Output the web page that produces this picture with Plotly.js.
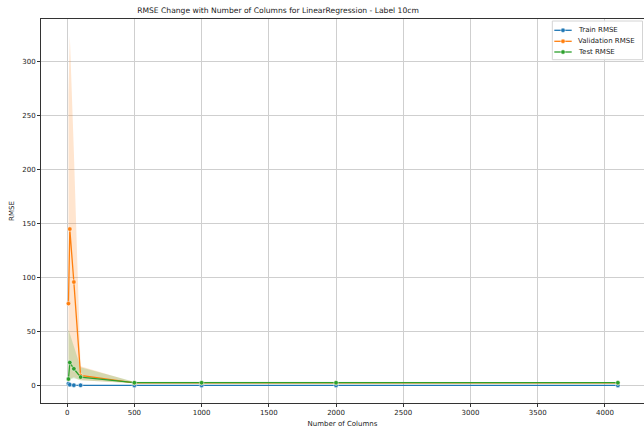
<!DOCTYPE html>
<html>
<head>
<meta charset="utf-8">
<script src="https://cdn.plot.ly/plotly-3.0.1.min.js"></script>
<style>html,body{margin:0;padding:0;background:#fff;}#chart{width:644px;height:431px;}</style>
</head>
<body>
<div id="chart"></div>
<script>
const columns = [10, 20, 50, 100, 500, 1000, 2000, 4096];
const trainRmse = [1.9, 1.0, 0.5, 0.4, 0.3, 0.3, 0.3, 0.3];
const trainLow = [1.2, 0.6, 0.3, 0.2, 0.2, 0.2, 0.2, 0.2];
const trainHigh = [2.6, 1.5, 0.8, 0.6, 0.4, 0.4, 0.4, 0.4];
const valRmse = [76, 145, 96, 9.5, 2.6, 2.6, 2.6, 2.6];
const valLow = [5, 6, 8, 5, 2.2, 2.2, 2.2, 2.2];
const valHigh = [270, 324, 217, 18, 3.2, 3.1, 3.1, 3.1];
const testRmse = [6.2, 21.5, 15.7, 8.0, 2.8, 2.8, 2.8, 2.8];
const testLow = [5, 6, 7, 5, 2.2, 2.3, 2.3, 2.3];
const testHigh = [52, 48, 35, 17, 3.6, 3.5, 3.5, 3.5];
const seriesNames = ['Train RMSE', 'Validation RMSE', 'Test RMSE'];
const xTicks = [0, 500, 1000, 1500, 2000, 2500, 3000, 3500, 4000];
const yTicks = [0, 50, 100, 150, 200, 250, 300];

const colors = ['#1f77b4', '#ff7f0e', '#2ca02c'];
const fills = ['rgba(31,119,180,0.2)', 'rgba(255,127,14,0.2)', 'rgba(44,160,44,0.2)'];
const series = [
  {y: trainRmse, lo: trainLow, hi: trainHigh},
  {y: valRmse, lo: valLow, hi: valHigh},
  {y: testRmse, lo: testLow, hi: testHigh}
];

const traces = [];
series.forEach((s, i) => {
  traces.push({
    x: columns.concat(columns.slice().reverse()),
    y: s.hi.concat(s.lo.slice().reverse()),
    type: 'scatter', mode: 'lines', fill: 'toself', fillcolor: fills[i],
    line: {width: 0}, hoverinfo: 'skip', showlegend: false
  });
});
series.forEach((s, i) => {
  traces.push({
    x: columns, y: s.y, name: seriesNames[i], type: 'scatter', mode: 'lines+markers',
    line: {color: colors[i], width: 1.3}, showlegend: false,
    marker: {color: colors[i], size: 4.5, line: {color: '#ffffff', width: 0.5}}
  });
});

const font = {family: 'DejaVu Sans, sans-serif', color: '#222', size: 7};

// Legend drawn in paper coordinates (plot area: 41..644 px wide, 19..403 px tall)
const W = 603, H = 384, L = 41, B = 403;
const px = v => (v - L) / W;
const py = v => (B - v) / H;
const shapes = [{
  type: 'rect', xref: 'paper', yref: 'paper', layer: 'above',
  x0: px(552.3), x1: px(642.5), y0: py(59.7), y1: py(21),
  line: {color: '#d4d4d4', width: 1}, fillcolor: 'rgba(255,255,255,0.85)'
}];
const annotations = [];
const entryY = [30.3, 41.3, 52];
seriesNames.forEach((n, i) => {
  shapes.push({type: 'line', xref: 'paper', yref: 'paper', layer: 'above',
    x0: px(554.3), x1: px(571.7), y0: py(entryY[i]), y1: py(entryY[i]),
    line: {color: colors[i], width: 1.3}});
  shapes.push({type: 'circle', xref: 'paper', yref: 'paper', layer: 'above',
    xsizemode: 'pixel', ysizemode: 'pixel', xanchor: px(563), yanchor: py(entryY[i]),
    x0: -2.2, x1: 2.2, y0: -2.2, y1: 2.2, fillcolor: colors[i], line: {color: '#ffffff', width: 0.5}});
  annotations.push({xref: 'paper', yref: 'paper', x: px(576.2), y: py(entryY[i]),
    xanchor: 'left', yanchor: 'middle', showarrow: false, text: n, font: font});
});

const layout = {
  width: 644, height: 431,
  margin: {l: 41, r: 0, t: 19, b: 28},
  paper_bgcolor: '#fff', plot_bgcolor: '#fff',
  font: font,
  title: {text: 'RMSE Change with Number of Columns for LinearRegression - Label 10cm', font: {family: 'DejaVu Sans, sans-serif', size: 7.6, color: '#222'}, xref: 'paper', x: px(278), xanchor: 'center', y: 0.975, yanchor: 'middle'},
  xaxis: {
    range: [-194.3, 4290.3], tickvals: xTicks, ticktext: xTicks.map(String),
    showgrid: true, gridcolor: '#cfcfcf', gridwidth: 1, zeroline: false,
    showline: true, linecolor: '#333', linewidth: 1, mirror: true,
    ticks: 'outside', ticklen: 3, tickcolor: '#333', tickfont: font,
    title: {text: 'Number of Columns', font: font, standoff: 4}
  },
  yaxis: {
    range: [-16, 339.5], tickvals: yTicks, ticktext: yTicks.map(String),
    showgrid: true, gridcolor: '#cfcfcf', gridwidth: 1, zeroline: false,
    showline: true, linecolor: '#333', linewidth: 1, mirror: true,
    ticks: 'outside', ticklen: 3, tickcolor: '#333', tickfont: font,
    title: {text: 'RMSE', font: font, standoff: 6}
  },
  shapes: shapes,
  annotations: annotations,
  showlegend: false
};
Plotly.newPlot('chart', traces, layout, {displayModeBar: false, staticPlot: true});
</script>
</body>
</html>
